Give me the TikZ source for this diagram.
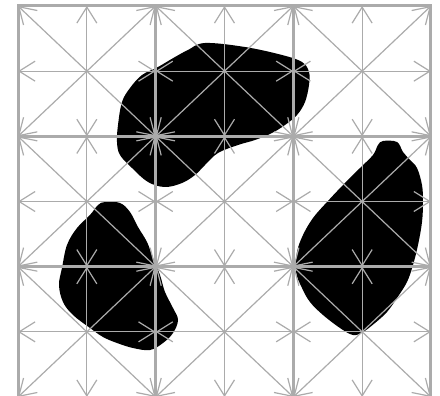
\documentclass[tikz,border=0pt]{standalone}
\usetikzlibrary{arrows.meta}
\definecolor{gridgray}{HTML}{ABABAB}

\begin{document}
\begin{tikzpicture}[
    x=1pt, y=-1pt,
    >={Straight Barb[length=16pt, width=20pt]},
    % Define styles for the grid and the shapes
    fine_line/.style={draw=gridgray, line width=1.2pt},
    coarse_line/.style={draw=gridgray, line width=3pt, line cap=rect},
    blob/.style={fill=black, draw=none}
]
    \useasboundingbox (0,0) rectangle (440,396);

    % --- Grid points (7 x 7) ---
    \foreach \i in {0,...,6} {
        \foreach \j in {0,...,6} {
            \coordinate (p\i\j) at ({18 + \i*68.83}, {6 + \j*65.17});
        }
    }

    % --- Black shapes ---
    \fill[blob] plot[smooth cycle, tension=0.6] coordinates {
        (205,43) (245,47) (282,55) (302,62) (309,72) (309,85) (305,102)
        (297,115) (285,125) (272,133) (255,140) (238,145) (218,153)
        (205,165) (195,175) (182,183) (165,187) (148,182) (132,168)
        (120,155) (117,142) (118,125) (122,102) (130,88) (142,75)
        (158,67) (175,57) (188,50)};
    \fill[blob] plot[smooth cycle, tension=0.6] coordinates {
        (105,202) (120,203) (130,212) (138,227) (147,242) (153,258)
        (160,275) (165,292) (173,308) (178,320) (173,333) (163,343)
        (150,350) (133,348) (117,343) (103,337) (90,328) (73,315)
        (63,302) (59,285) (62,268) (67,245) (77,228) (90,215) (98,205)};
    \fill[blob] plot[smooth cycle, tension=0.6] coordinates {
        (383,141) (397,142) (403,152) (410,160) (417,168) (422,185)
        (423,202) (422,222) (418,245) (413,265) (407,282) (397,298)
        (387,312) (375,323) (363,332) (353,335) (340,328) (323,315)
        (310,302) (302,288) (296,272) (297,252) (303,235) (313,218)
        (327,202) (343,185) (360,168) (373,155) (378,145)};

    % --- Arrows from each cell centre to its 8 neighbours ---
    \foreach \i in {1,3,5} {
        \foreach \j in {1,3,5} {
            \foreach \dx/\dy in {-1/-1, 0/-1, 1/-1, -1/0, 1/0, -1/1, 0/1, 1/1} {
                \pgfmathtruncatemacro{\ti}{\i+\dx}
                \pgfmathtruncatemacro{\tj}{\j+\dy}
                \draw[fine_line, ->] (p\i\j) -- (p\ti\tj);
            }
        }
    }

    % --- Coarse grid ---
    \foreach \k in {0,2,4,6} {
        \draw[coarse_line] (p\k0) -- (p\k6);
        \draw[coarse_line] (p0\k) -- (p6\k);
    }

\end{tikzpicture}
\end{document}
